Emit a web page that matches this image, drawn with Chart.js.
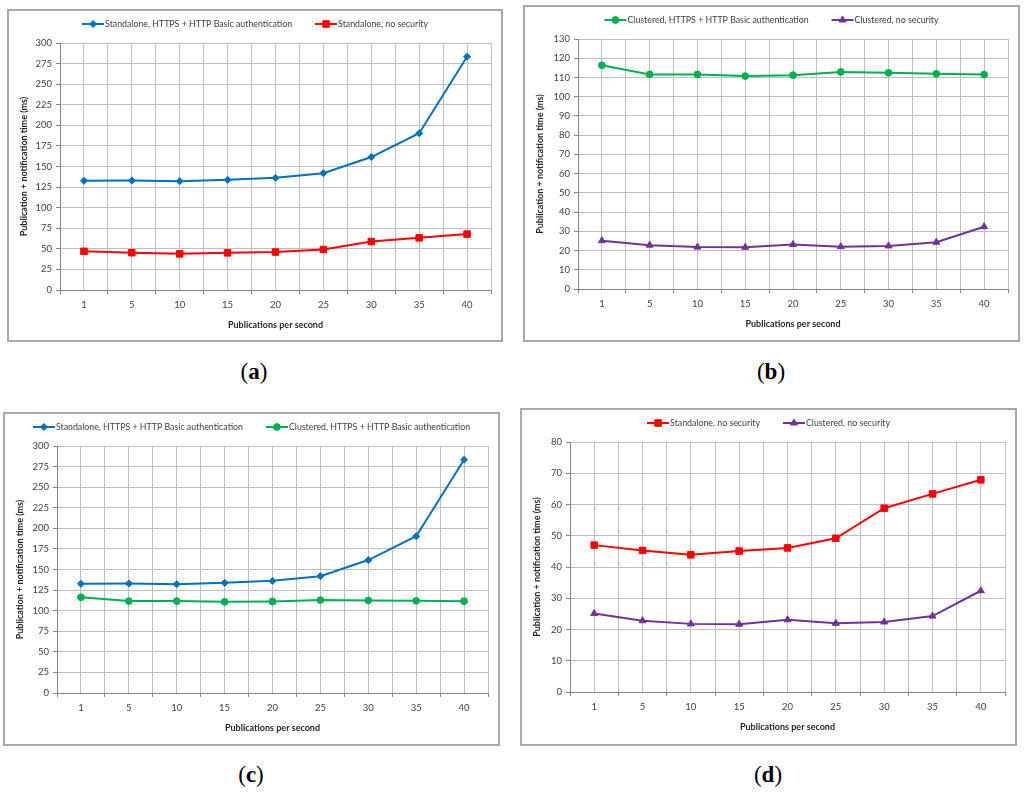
<!DOCTYPE html>
<html>
<head>
<meta charset="utf-8">
<script src="https://cdn.jsdelivr.net/npm/chart.js@4.4.1/dist/chart.umd.min.js"></script>
<style>
  body { margin: 0; background: #fff; width: 1024px; height: 794px; position: relative; overflow: hidden; }
  .box { position: absolute; border: 2px solid #a9a9a9; box-sizing: border-box; background: #fff; }
  .box canvas { display: block; }
  .cap { position: absolute; width: 100px; text-align: center; line-height: 26px;
         font-family: "Liberation Serif", "DejaVu Serif", serif; font-size: 23px; color: #000; }
</style>
</head>
<body>
<div class="box" style="left:7px;top:9px;width:496px;height:333px"><canvas id="chartA"></canvas></div>
<div class="box" style="left:523px;top:5px;width:497px;height:337px"><canvas id="chartB"></canvas></div>
<div class="box" style="left:3px;top:412px;width:497px;height:334px"><canvas id="chartC"></canvas></div>
<div class="box" style="left:520px;top:408px;width:497px;height:338px"><canvas id="chartD"></canvas></div>
<div class="cap" style="left:204px;top:359px">(<b>a</b>)</div>
<div class="cap" style="left:721px;top:359px">(<b>b</b>)</div>
<div class="cap" style="left:201px;top:762px">(<b>c</b>)</div>
<div class="cap" style="left:718px;top:762px">(<b>d</b>)</div>
<script>
// publications per second (category labels)
const pubRates = ['1', '5', '10', '15', '20', '25', '30', '35', '40'];

// publication + notification time (ms)
const standaloneSecure = [132.6, 133, 132.2, 133.8, 136.2, 141.9, 161.5, 190.4, 283.3];
const standaloneOpen = [47, 45.3, 43.9, 45.1, 46.1, 49.2, 58.8, 63.4, 67.9];
const clusteredSecure = [116.3, 111.6, 111.6, 110.7, 111.2, 112.9, 112.4, 111.9, 111.5];
const clusteredOpen = [25.1, 22.8, 21.8, 21.7, 23.1, 22.0, 22.4, 24.3, 32.4];

// y axis ranges: [min, max, step]
const yRangeWide = [0, 300, 25];
const yRangeB = [0, 130, 10];
const yRangeD = [0, 80, 10];

const FONT = 'Lato';

const series = {
  standaloneSecure: { label: 'Standalone, HTTPS + HTTP Basic authentication', values: standaloneSecure, color: '#0070c0', marker: 'rectRot', radius: 3.5 },
  standaloneOpen: { label: 'Standalone, no security', values: standaloneOpen, color: '#ff0000', marker: 'rect', radius: 4.6 },
  clusteredSecure: { label: 'Clustered, HTTPS + HTTP Basic authentication', values: clusteredSecure, color: '#00b050', marker: 'circle', radius: 3.4 },
  clusteredOpen: { label: 'Clustered, no security', values: clusteredOpen, color: '#7030a0', marker: 'triangle', radius: 4 },
};

// excel style legend: short line with the marker in the middle
const lineLegend = {
  id: 'lineLegend',
  afterDraw(chart) {
    const ctx = chart.ctx;
    const y = 13;
    const lineLen = 22;
    const gap = 23;
    ctx.save();
    ctx.font = '8.8px ' + FONT;
    const items = chart.data.datasets.map((ds, i) => ({
      ds: ds,
      meta: chart.getDatasetMeta(i),
      w: ctx.measureText(ds.label).width,
    }));
    const total = items.reduce((s, it) => s + lineLen + 1 + it.w, 0) + gap * (items.length - 1);
    let x = (chart.width - total) / 2;
    items.forEach((it) => {
      ctx.strokeStyle = it.ds.borderColor;
      ctx.lineWidth = 2;
      ctx.beginPath();
      ctx.moveTo(x, y);
      ctx.lineTo(x + lineLen, y);
      ctx.stroke();
      ctx.fillStyle = it.ds.backgroundColor;
      ctx.lineWidth = 1;
      Chart.helpers.drawPoint(ctx, it.meta.data[0].options, x + lineLen / 2, y);
      ctx.fillStyle = '#404040';
      ctx.textBaseline = 'middle';
      ctx.textAlign = 'left';
      ctx.fillText(it.ds.label, x + lineLen + 1, y);
      x += lineLen + 1 + it.w + gap;
    });
    ctx.restore();
  },
};

function makeChart(canvasId, list, yRange, yWidth, padBottom) {
  new Chart(document.getElementById(canvasId), {
    type: 'line',
    data: {
      datasets: list.map((s) => ({
        label: s.label,
        data: s.values.map((v, i) => ({ x: i + 1, y: v })),
        borderColor: s.color,
        backgroundColor: s.color,
        borderWidth: 2,
        pointStyle: s.marker,
        pointRadius: s.radius,
        pointBorderWidth: 1,
        tension: 0,
      })),
    },
    options: {
      responsive: true,
      maintainAspectRatio: false,
      animation: false,
      layout: { padding: { left: 6, top: 32, right: 10, bottom: padBottom } },
      plugins: { legend: { display: false }, tooltip: { enabled: false } },
      scales: {
        x: {
          type: 'linear',
          min: 0.5,
          max: pubRates.length + 0.5,
          afterBuildTicks: (axis) => {
            const t = [];
            for (let k = 0; k <= pubRates.length * 2; k++) t.push({ value: 0.5 + k * 0.5 });
            axis.ticks = t;
          },
          afterFit: (scale) => { scale.height = 44; },
          ticks: {
            autoSkip: false,
            maxRotation: 0,
            padding: 5,
            color: '#404040',
            font: { family: FONT, size: 9.5 },
            callback: (value) => (Number.isInteger(value) ? pubRates[value - 1] : ''),
          },
          grid: {
            color: '#bebebe',
            tickLength: 4,
            tickColor: (c) => (c.tick && Number.isInteger(c.tick.value) ? 'rgba(0,0,0,0)' : '#868686'),
          },
          border: { color: '#868686', width: 1 },
          title: {
            display: true,
            text: 'Publications per second',
            color: '#262626',
            font: { family: FONT, size: 9, weight: 'bold' },
          },
        },
        y: {
          min: yRange[0],
          max: yRange[1],
          afterFit: (scale) => { scale.width = yWidth; },
          ticks: {
            stepSize: yRange[2],
            padding: 4,
            color: '#404040',
            font: { family: FONT, size: 9.5 },
          },
          grid: { color: '#bebebe', tickLength: 4, tickColor: '#868686' },
          border: { color: '#868686', width: 1 },
          title: {
            display: true,
            text: 'Publication + notification time (ms)',
            color: '#262626',
            font: { family: FONT, size: 9, weight: 'bold' },
          },
        },
      },
    },
    plugins: [lineLegend],
  });
}

makeChart('chartA', [series.standaloneSecure, series.standaloneOpen], yRangeWide, 45, 6);
makeChart('chartB', [series.clusteredSecure, series.clusteredOpen], yRangeB, 47, 7);
makeChart('chartC', [series.standaloneSecure, series.clusteredSecure], yRangeWide, 46, 7);
makeChart('chartD', [series.standaloneOpen, series.clusteredOpen], yRangeD, 42, 8);
</script>
</body>
</html>
